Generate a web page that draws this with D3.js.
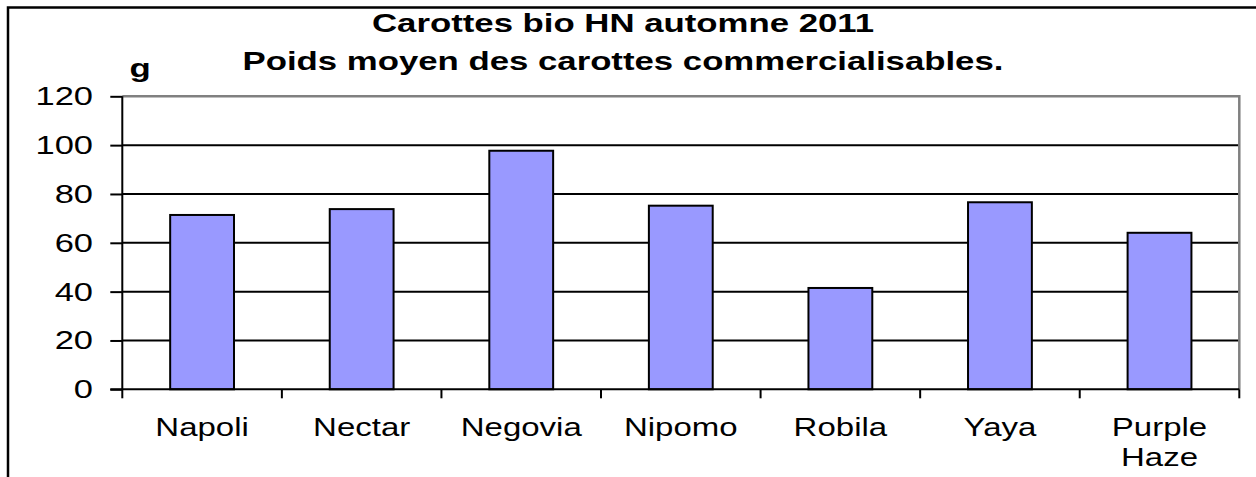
<!DOCTYPE html>
<html>
<head>
<meta charset="utf-8">
<script src="https://cdn.jsdelivr.net/npm/d3@7"></script>
<style>
  body { margin: 0; background: #fff; }
  svg { display: block; }
  text { font-family: "Liberation Sans", Arial, sans-serif; fill: #000; }
</style>
</head>
<body>
<svg id="svg" width="1256" height="477"></svg>
<script>
// data
var categories = ['Napoli', 'Nectar', 'Negovia', 'Nipomo', 'Robila', 'Yaya', 'Purple Haze'];
var values = [71.4, 73.8, 97.7, 75.2, 41.5, 76.6, 64.1];
var yTicks = [0, 20, 40, 60, 80, 100, 120];
var titleLines = ['Carottes bio HN automne 2011', 'Poids moyen des carottes commercialisables.'];
var unitLabel = 'g';

var SX = 1.38; // the picture is stretched sideways

function stretchedText(g, x, y, txt, size, bold, anchor, sx){
    g.append('text')
        .attr('transform', 'translate(' + x + ',' + y + ') scale(' + (sx || SX) + ',1)')
        .attr('font-size', size)
        .attr('font-weight', bold ? 'bold' : 'normal')
        .attr('text-anchor', anchor)
        .text(txt);
}

function genChart(){
    var s = d3.select('#svg');
    var left = 122.3, right = 1239.3, top = 96.3, bottom = 389.3;

    // chart frame (only left and top edges visible)
    s.append('path')
        .attr('d', 'M8,477 L8,7.5 L1256,7.5')
        .attr('fill', 'none')
        .attr('stroke', '#000')
        .attr('stroke-width', 2.5);

    var x = d3.scaleBand()
        .domain(categories)
        .range([left, right])
        .paddingInner(0.6)
        .paddingOuter(0.3);
    var y = d3.scaleLinear().domain([0, 120]).range([bottom, top]);

    // gridlines
    s.append('g').selectAll('line')
        .data(yTicks.filter(function(d){ return d > 0 && d < 120; }))
        .enter().append('line')
        .attr('x1', left).attr('x2', right)
        .attr('y1', function(d){ return y(d); })
        .attr('y2', function(d){ return y(d); })
        .attr('stroke', '#000')
        .attr('stroke-width', 2);

    // plot border top/right (gray)
    s.append('path')
        .attr('d', 'M' + left + ',' + y(120) + ' L' + right + ',' + y(120) + ' L' + right + ',' + bottom)
        .attr('fill', 'none')
        .attr('stroke', '#808080')
        .attr('stroke-width', 2.5);

    // bars
    s.append('g').selectAll('rect')
        .data(values)
        .enter().append('rect')
        .attr('x', function(d, i){ return x(categories[i]); })
        .attr('width', x.bandwidth())
        .attr('y', function(d){ return y(d); })
        .attr('height', function(d){ return y(0) - y(d); })
        .attr('fill', '#9999FF')
        .attr('stroke', '#000')
        .attr('stroke-width', 2);

    // y axis
    var ya = s.append('g').attr('transform', 'translate(' + left + ',0)')
        .call(d3.axisLeft(y).tickValues(yTicks).tickSize(12).tickFormat(''));
    ya.selectAll('path, line').attr('stroke', '#000').attr('stroke-width', 2);
    ya.select('.domain').attr('d', 'M0,' + top + 'V' + bottom);
    yTicks.forEach(function(t){
        stretchedText(s, 93, y(t) + 9, t, 25, false, 'end');
    });

    // x axis: ticks on category boundaries
    var bounds = d3.range(categories.length + 1).map(function(i){ return left + i * x.step(); });
    s.append('line')
        .attr('x1', left - 12).attr('x2', right)
        .attr('y1', bottom).attr('y2', bottom)
        .attr('stroke', '#000').attr('stroke-width', 2);
    s.append('g').selectAll('line')
        .data(bounds)
        .enter().append('line')
        .attr('x1', function(d){ return d; }).attr('x2', function(d){ return d; })
        .attr('y1', bottom).attr('y2', bottom + 9)
        .attr('stroke', '#000').attr('stroke-width', 2);

    categories.forEach(function(c){
        var cx = x(c) + x.bandwidth() / 2;
        var words = c.split(' ');
        words.forEach(function(w, j){
            stretchedText(s, cx, 436 + j * 30, w, 25, false, 'middle', 1.32);
        });
    });

    // titles
    stretchedText(s, 623, 32, titleLines[0], 25, true, 'middle', 1.39);
    stretchedText(s, 623, 70, titleLines[1], 25, true, 'middle', 1.39);
    stretchedText(s, 140, 77, unitLabel, 25, true, 'middle', 1.39);
}

genChart();
</script>
</body>
</html>
